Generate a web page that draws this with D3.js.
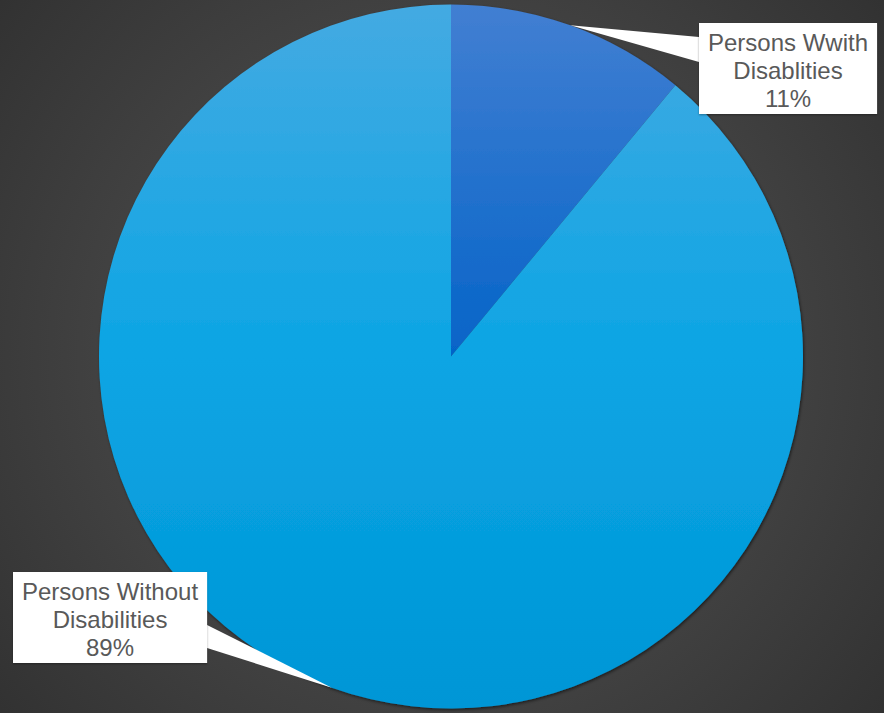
<!DOCTYPE html>
<html>
<head>
<meta charset="utf-8">
<script src="https://cdn.jsdelivr.net/npm/d3@7"></script>
<style>
  html, body { margin: 0; padding: 0; background: #3a3a3a; overflow: hidden; }
  svg { display: block; }
  text { font-family: "Liberation Sans", Arial, sans-serif; }
</style>
</head>
<body>
<svg id="chart" width="884" height="713"></svg>
<script>
// Share of the population, in percent
const categories = ["Persons Wwith Disablities", "Persons Without Disabilities"];
const labelLines = [["Persons Wwith", "Disablities"], ["Persons Without", "Disabilities"]];
const values = [11, 89];

const W = 884, H = 713;
const cx = 451, cy = 356.5, R = 352;

const svg = d3.select("#chart");
const defs = svg.append("defs");

// dark radial backdrop
const bg = defs.append("radialGradient").attr("id", "bg")
  .attr("gradientUnits", "userSpaceOnUse")
  .attr("cx", 442).attr("cy", 356).attr("r", 580);
bg.append("stop").attr("offset", 0).attr("stop-color", "#4c4c4c");
bg.append("stop").attr("offset", 0.5).attr("stop-color", "#454545");
bg.append("stop").attr("offset", 1).attr("stop-color", "#313131");
svg.append("rect").attr("width", W).attr("height", H).attr("fill", "url(#bg)");

// vertical gradients per slice, spanning the whole pie (pie group coordinates)
const gradStops = [
  [["0", "#427fd2"], ["0.5", "#0564c8"], ["1", "#0058b2"]],
  [["0", "#44aae2"], ["0.5", "#0ca5e4"], ["1", "#0096d6"]]
];
gradStops.forEach((stops, i) => {
  const g = defs.append("linearGradient").attr("id", "slice" + i)
    .attr("gradientUnits", "userSpaceOnUse")
    .attr("x1", 0).attr("y1", -R).attr("x2", 0).attr("y2", R);
  stops.forEach(s => g.append("stop").attr("offset", s[0]).attr("stop-color", s[1]));
});

const shadow = defs.append("filter").attr("id", "shadow")
  .attr("x", "-10%").attr("y", "-10%").attr("width", "120%").attr("height", "120%");
shadow.append("feDropShadow").attr("dx", 1).attr("dy", 1.5)
  .attr("stdDeviation", 1.8).attr("flood-color", "#000").attr("flood-opacity", 0.55);

const boxShadow = defs.append("filter").attr("id", "boxShadow")
  .attr("x", "-10%").attr("y", "-10%").attr("width", "120%").attr("height", "130%");
boxShadow.append("feDropShadow").attr("dx", 0).attr("dy", 1)
  .attr("stdDeviation", 1).attr("flood-color", "#000").attr("flood-opacity", 0.35);

const pie = d3.pie().sort(null).value(d => d);
const arcs = pie(values);
const arc = d3.arc().innerRadius(0).outerRadius(R);

const g = svg.append("g").attr("transform", `translate(${cx},${cy})`);
g.append("g").attr("filter", "url(#shadow)")
  .selectAll("path").data(arcs).join("path")
  .attr("d", arc)
  .attr("fill", (d, i) => `url(#slice${i})`);

// data label callouts: box top-left corners and callout base on box side
const boxes = [
  { x: 699, y: 23, side: "left", b0: 14, b1: 39 },
  { x: 13, y: 572, side: "right", b0: 53, b1: 76 }
];
const fontSize = 24, lineH = 28.2, padX = 9, padTop = 27.5, boxH = 91;

const labels = svg.append("g");
arcs.forEach((a, i) => {
  const mid = (a.startAngle + a.endAngle) / 2;
  const ax = cx + R * Math.sin(mid), ay = cy - R * Math.cos(mid);
  const b = boxes[i];
  const lines = labelLines[i].concat([d3.format(".0%")(a.value / d3.sum(values))]);

  const grp = labels.append("g");
  const rect = grp.append("rect").attr("fill", "#ffffff").attr("filter", "url(#boxShadow)");
  const txt = grp.append("text").attr("fill", "#595959")
    .attr("font-size", fontSize).attr("text-anchor", "middle");
  lines.forEach((l, k) => txt.append("tspan").text(l));
  let maxW = 0;
  txt.selectAll("tspan").each(function () { maxW = Math.max(maxW, this.getComputedTextLength()); });
  const bw = maxW + 2 * padX;
  rect.attr("x", b.x).attr("y", b.y).attr("width", bw).attr("height", boxH);
  txt.selectAll("tspan")
    .attr("x", b.x + bw / 2)
    .attr("y", (d, k) => b.y + padTop + k * lineH);

  const ex = b.side === "left" ? b.x : b.x + bw;
  labels.insert("path", ":first-child")
    .attr("d", `M${ax},${ay}L${ex},${b.y + b.b0}L${ex},${b.y + b.b1}Z`)
    .attr("fill", "#ffffff");
});
</script>
</body>
</html>
